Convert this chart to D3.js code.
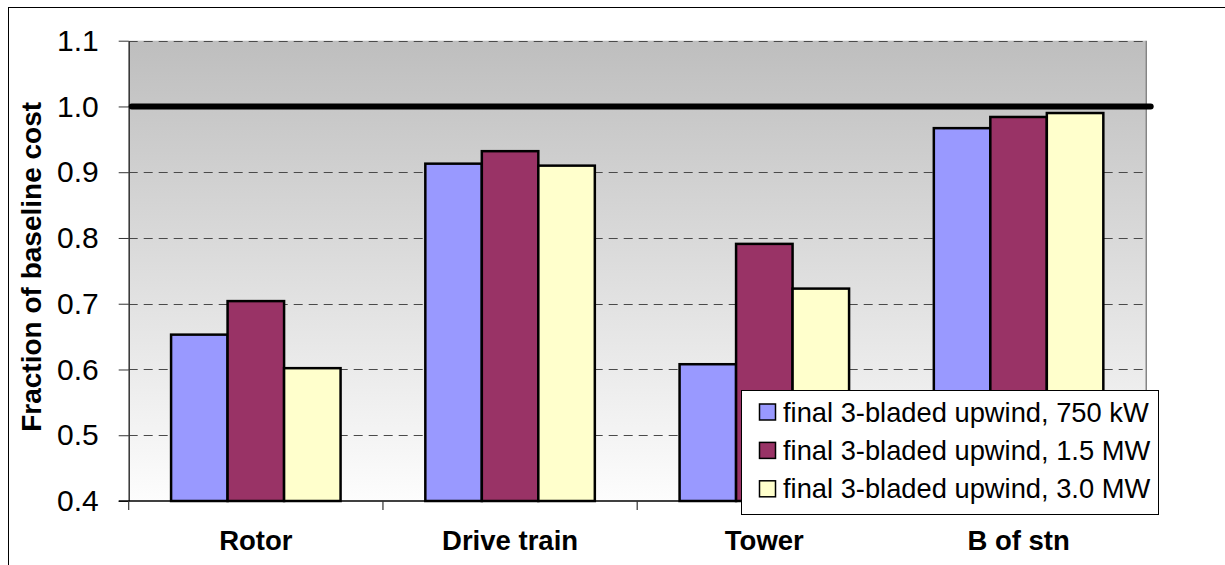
<!DOCTYPE html>
<html>
<head>
<meta charset="utf-8">
<script src="https://cdn.jsdelivr.net/npm/d3@7"></script>
<style>
  html, body { margin: 0; padding: 0; background: #fff; }
  svg { display: block; }
  text { font-family: "Liberation Sans", Arial, sans-serif; fill: #000; }
</style>
</head>
<body>
<svg id="chart" width="1225" height="565"></svg>
<script>
// Cost components, each as a fraction of the baseline design cost
const categories = ["Rotor", "Drive train", "Tower", "B of stn"];
const seriesNames = [
  "final 3-bladed upwind, 750 kW",
  "final 3-bladed upwind, 1.5 MW",
  "final 3-bladed upwind, 3.0 MW"
];
const values750kW = [0.653, 0.913, 0.608, 0.967];
const values1500kW = [0.704, 0.932, 0.791, 0.984];
const values3000kW = [0.602, 0.910, 0.723, 0.990];
const baselineValue = 1.0;
const yTicks = [0.4, 0.5, 0.6, 0.7, 0.8, 0.9, 1.0, 1.1];
const seriesColors = ["#9999FF", "#993366", "#FFFFCC"];

const seriesValues = [values750kW, values1500kW, values3000kW];

const svg = d3.select("#chart");

// outer chart frame
svg.append("rect")
  .attr("x", 8.5).attr("y", 7.5)
  .attr("width", 1240).attr("height", 600)
  .attr("fill", "#fff").attr("stroke", "#000").attr("stroke-width", 1);

const plot = { left: 128.7, right: 1145.7, top: 40.7, bottom: 501 };

const y = d3.scaleLinear().domain([0.4, 1.1]).range([plot.bottom, plot.top]);
const x = d3.scaleBand().domain(categories).range([plot.left, plot.right]);
const xInner = d3.scaleBand()
  .domain(d3.range(seriesNames.length))
  .range([0, x.bandwidth()])
  .paddingOuter(0.75);

// plot area background gradient
const defs = svg.append("defs");
const grad = defs.append("linearGradient")
  .attr("id", "bgGrad").attr("x1", 0).attr("y1", 0).attr("x2", 0).attr("y2", 1);
grad.append("stop").attr("offset", "0%").attr("stop-color", "#bebebe");
grad.append("stop").attr("offset", "100%").attr("stop-color", "#fdfdfd");

svg.append("rect")
  .attr("x", plot.left).attr("y", plot.top)
  .attr("width", plot.right - plot.left).attr("height", plot.bottom - plot.top)
  .attr("fill", "url(#bgGrad)");

// right edge of plot area
svg.append("line")
  .attr("x1", plot.right + 0.5).attr("x2", plot.right + 0.5)
  .attr("y1", plot.top).attr("y2", plot.bottom)
  .attr("stroke", "#666").attr("stroke-width", 1.2);

// dashed horizontal gridlines
svg.append("g")
  .selectAll("line")
  .data(yTicks.filter(t => t > 0.4))
  .join("line")
  .attr("x1", plot.left).attr("x2", plot.right)
  .attr("y1", d => Math.round(y(d)) + 0.5).attr("y2", d => Math.round(y(d)) + 0.5)
  .attr("stroke", "#4a4a4a").attr("stroke-width", 1)
  .attr("stroke-dasharray", "9,6");

// y axis
const yAxis = d3.axisLeft(y)
  .tickValues(yTicks)
  .tickFormat(d3.format(".1f"))
  .tickSize(10)
  .tickSizeOuter(0)
  .tickPadding(20);
const gy = svg.append("g")
  .attr("transform", `translate(${plot.left},0)`)
  .call(yAxis);
gy.select(".domain").attr("stroke", "#333").attr("stroke-width", 1.5);
gy.selectAll(".tick line").attr("stroke", "#333");
gy.selectAll(".tick text")
  .attr("font-size", 30)
  .attr("font-family", "Liberation Sans, Arial, sans-serif")
  .attr("fill", "#000");

// bars
const groups = svg.append("g")
  .selectAll("g")
  .data(categories)
  .join("g")
  .attr("transform", d => `translate(${x(d)},0)`);

groups.selectAll("rect")
  .data((c, ci) => seriesValues.map((vals, si) => ({ si, v: vals[ci] })))
  .join("rect")
  .attr("x", d => xInner(d.si))
  .attr("width", xInner.bandwidth())
  .attr("y", d => y(d.v))
  .attr("height", d => y(0.4) - y(d.v))
  .attr("fill", d => seriesColors[d.si])
  .attr("stroke", "#000")
  .attr("stroke-width", 2.5);

// x axis with ticks at category boundaries
const gx = svg.append("g").attr("transform", `translate(0,${plot.bottom})`);
gx.append("line")
  .attr("x1", plot.left - 10).attr("x2", plot.right)
  .attr("y1", 0).attr("y2", 0)
  .attr("stroke", "#000").attr("stroke-width", 1.5);
gx.selectAll("line.tk")
  .data(categories.map(c => x(c)).concat([plot.right]))
  .join("line")
  .attr("class", "tk")
  .attr("x1", d => d).attr("x2", d => d)
  .attr("y1", 0).attr("y2", 9)
  .attr("stroke", "#333").attr("stroke-width", 1.2);
gx.selectAll("text")
  .data(categories)
  .join("text")
  .attr("x", d => x(d) + x.bandwidth() / 2)
  .attr("y", 49)
  .attr("text-anchor", "middle")
  .attr("font-size", 27.5)
  .attr("font-weight", "bold")
  .text(d => d);

// baseline cost reference line
svg.append("line")
  .attr("x1", plot.left + 3).attr("x2", plot.right + 5)
  .attr("y1", y(baselineValue)).attr("y2", y(baselineValue))
  .attr("stroke", "#000").attr("stroke-width", 6)
  .attr("stroke-linecap", "round");

// y axis title
svg.append("text")
  .attr("transform", `translate(41,${(plot.top + plot.bottom) / 2 - 4}) rotate(-90)`)
  .attr("text-anchor", "middle")
  .attr("font-size", 28)
  .attr("font-weight", "bold")
  .text("Fraction of baseline cost");

// legend
const legend = svg.append("g").attr("transform", "translate(741.5,390.5)");
legend.append("rect")
  .attr("width", 417).attr("height", 124)
  .attr("fill", "#fff").attr("stroke", "#000").attr("stroke-width", 1);
const rows = legend.selectAll("g.row")
  .data(seriesNames)
  .join("g")
  .attr("class", "row")
  .attr("transform", (d, i) => `translate(0,${21.5 + i * 38.4})`);
rows.append("rect")
  .attr("x", 18).attr("y", -8)
  .attr("width", 16).attr("height", 16)
  .attr("fill", (d, i) => seriesColors[i])
  .attr("stroke", "#000").attr("stroke-width", 1.5);
rows.append("text")
  .attr("x", 41.5).attr("y", 9.5)
  .attr("font-size", 27.3)
  .text(d => d);
</script>
</body>
</html>
